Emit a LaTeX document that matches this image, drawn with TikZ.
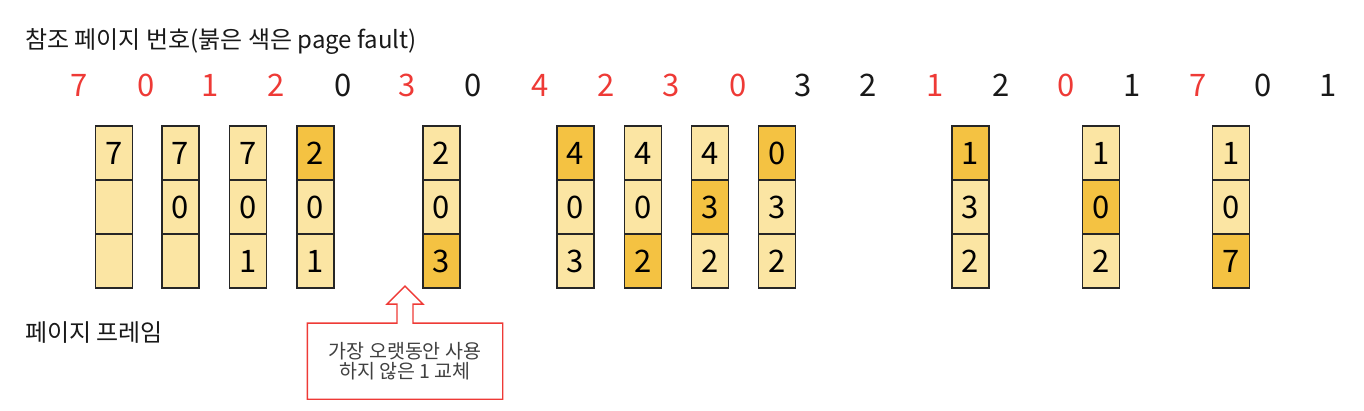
\documentclass[tikz,border=0pt]{standalone}
\usepackage{fontspec}
\setmainfont{Noto Sans CJK KR}
\usetikzlibrary{calc, positioning}
\definecolor{pagelight}{HTML}{FBE5A3}
\definecolor{pagenew}{HTML}{F4C242}
\definecolor{faultred}{HTML}{EE3A36}
\definecolor{notegray}{HTML}{404040}

\begin{document}
\begin{tikzpicture}[x=1pt, y=-1pt,
  refnum/.style={font=\fontsize{31}{31}\selectfont, inner sep=0pt, text=black!90},
  fault/.style={refnum, text=faultred},
  cell/.style={draw=black!85, line width=1.3pt, fill=pagelight,
    minimum width=37pt, minimum height=54pt, inner sep=0pt,
    font=\fontsize{31}{31}\selectfont},
  newpage/.style={cell, fill=pagenew},
  heading/.style={font=\fontsize{24}{24}\selectfont, anchor=west, inner sep=0pt, text=black!90}
]
\useasboundingbox (0,0) rectangle (1364,410);

% Headings
\node[heading] (title) at (25,41.5) {참조 페이지 번호(붉은 색은 page fault)};
\node[heading] (frames) at (25,333) {페이지 프레임};

% Reference string
\node[fault]  (r1)  at (79,85.5)   {7};
\node[fault]  (r2)  at (146,85.5)  {0};
\node[fault]  (r3)  at (210,85.5)  {1};
\node[fault]  (r4)  at (276.5,85.5) {2};
\node[refnum] (r5)  at (343,85.5)  {0};
\node[fault]  (r6)  at (407,85.5)  {3};
\node[refnum] (r7)  at (473.5,85.5) {0};
\node[fault]  (r8)  at (540,85.5)  {4};
\node[fault]  (r9)  at (606,85.5)  {2};
\node[fault]  (r10) at (671.5,85.5) {3};
\node[fault]  (r11) at (738,85.5)  {0};
\node[refnum] (r12) at (803,85.5)  {3};
\node[refnum] (r13) at (868.5,85.5) {2};
\node[fault]  (r14) at (935,85.5)  {1};
\node[refnum] (r15) at (1001,85.5) {2};
\node[fault]  (r16) at (1066.5,85.5) {0};
\node[refnum] (r17) at (1132.5,85.5) {1};
\node[fault]  (r18) at (1198,85.5) {7};
\node[refnum] (r19) at (1263,85.5) {0};
\node[refnum] (r20) at (1328,85.5) {1};

% Page frames after each fault
\node[cell] (f1a) at (114,153) {7};
\node[cell] (f1b) at (114,207) {};
\node[cell] (f1c) at (114,261) {};

\node[cell] (f2a) at (180.5,153) {7};
\node[cell] (f2b) at (180.5,207) {0};
\node[cell] (f2c) at (180.5,261) {};

\node[cell] (f3a) at (248,153) {7};
\node[cell] (f3b) at (248,207) {0};
\node[cell] (f3c) at (248,261) {1};

\node[newpage] (f4a) at (315.5,153) {2};
\node[cell]    (f4b) at (315.5,207) {0};
\node[cell]    (f4c) at (315.5,261) {1};

\node[cell]    (f5a) at (441.5,153) {2};
\node[cell]    (f5b) at (441.5,207) {0};
\node[newpage] (f5c) at (441.5,261) {3};

\node[newpage] (f6a) at (575.5,153) {4};
\node[cell]    (f6b) at (575.5,207) {0};
\node[cell]    (f6c) at (575.5,261) {3};

\node[cell]    (f7a) at (643,153) {4};
\node[cell]    (f7b) at (643,207) {0};
\node[newpage] (f7c) at (643,261) {2};

\node[cell]    (f8a) at (710,153) {4};
\node[newpage] (f8b) at (710,207) {3};
\node[cell]    (f8c) at (710,261) {2};

\node[newpage] (f9a) at (777,153) {0};
\node[cell]    (f9b) at (777,207) {3};
\node[cell]    (f9c) at (777,261) {2};

\node[newpage] (f10a) at (970.5,153) {1};
\node[cell]    (f10b) at (970.5,207) {3};
\node[cell]    (f10c) at (970.5,261) {2};

\node[cell]    (f11a) at (1101,153) {1};
\node[newpage] (f11b) at (1101,207) {0};
\node[cell]    (f11c) at (1101,261) {2};

\node[cell]    (f12a) at (1231,153) {1};
\node[cell]    (f12b) at (1231,207) {0};
\node[newpage] (f12c) at (1231,261) {7};

% Callout
\node[minimum width=195pt, minimum height=75pt, inner sep=0pt, align=center,
  text=notegray, font=\fontsize{19.5}{20}\selectfont] (note) at (405,361.5)
  {가장 오랫동안 사용\\하지 않은 1 교체};
\draw[faultred, line width=1.4pt, line join=miter]
  ($(note.north west)+(0,-0.7)$) -- ($(note.north)+(-8,-0.7)$) -- ++(0,-19) -- ++(-10,0)
  -- ($(note.north)+(0,-37.7)$) -- ($(note.north)+(18,-19.7)$) -- ++(-10,0)
  -- ($(note.north)+(8,-0.7)$) -- ($(note.north east)+(0,-0.7)$) -- (note.south east)
  -- (note.south west) -- cycle;
\end{tikzpicture}
\end{document}
